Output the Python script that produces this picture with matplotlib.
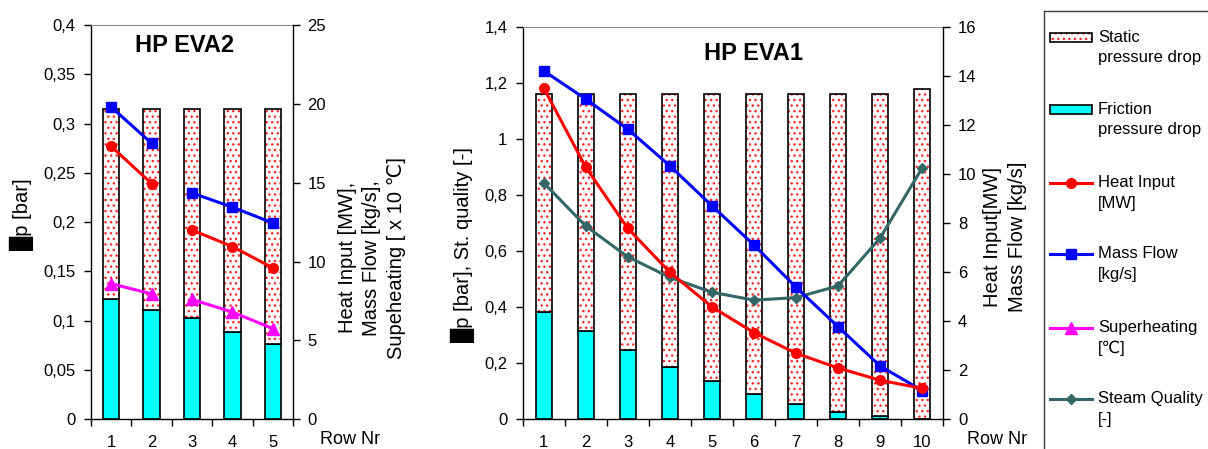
import matplotlib
matplotlib.use('Agg')
import matplotlib.pyplot as plt
from matplotlib.patches import Rectangle
from matplotlib.lines import Line2D
from matplotlib.ticker import FuncFormatter, FixedLocator
import numpy as np

plt.rcParams['font.family'] = ['Liberation Sans', 'DejaVu Sans']
plt.rcParams['font.size'] = 12
plt.rcParams['hatch.linewidth'] = 1.0

# ---------------- data ----------------
# HP EVA2
eva2_rows = [1, 2, 3, 4, 5]
eva2_friction = [0.122, 0.111, 0.103, 0.089, 0.076]
eva2_static = [0.193, 0.204, 0.212, 0.226, 0.239]
eva2_heat = [17.3, 14.95, 12.0, 10.95, 9.6]
eva2_mass = [19.8, 17.5, 14.35, 13.45, 12.45]
eva2_superheat = [8.6, 7.95, 7.6, 6.8, 5.75]
eva2_groups = [[0, 1], [2, 3, 4]]   # lines are broken between row 2 and 3

# HP EVA1
eva1_rows = [1, 2, 3, 4, 5, 6, 7, 8, 9, 10]
eva1_friction = [0.384, 0.316, 0.248, 0.185, 0.137, 0.089, 0.055, 0.027, 0.012, 0.0]
eva1_static = [0.776, 0.844, 0.912, 0.975, 1.023, 1.071, 1.105, 1.133, 1.148, 1.177]
eva1_heat = [13.5, 10.27, 7.78, 5.99, 4.58, 3.53, 2.69, 2.09, 1.59, 1.26]
eva1_mass = [14.2, 13.05, 11.82, 10.33, 8.70, 7.10, 5.38, 3.77, 2.17, 1.17]
eva1_quality = [0.843, 0.689, 0.579, 0.506, 0.453, 0.425, 0.434, 0.476, 0.647, 0.897]

legend_labels = ["Static\npressure drop", "Friction\npressure drop", "Heat Input\n[MW]",
                 "Mass Flow\n[kg/s]", "Superheating\n[\u2103]", "Steam Quality\n[-]"]

# ---------------- styles ----------------
C_STATIC = '#ff2a2a'
C_FRIC = '#00ffff'
C_HEAT = '#ff0000'
C_MASS = '#0000ff'
C_SUP = '#ff00ff'
C_QUAL = '#336666'
LW = 2.2
LABEL_FS = 14.5

W, H = 1208, 449
fig = plt.figure(figsize=(W / 100, H / 100), dpi=100)


def fig_rect(x0, y0, x1, y1):
    return [x0 / W, 1 - y1 / H, (x1 - x0) / W, (y1 - y0) / H]


def comma(v, pos=None):
    s = '{:g}'.format(round(v, 4))
    return s.replace('.', ',')


def style_axes(ax, ax2, n, ylim, y2lim, yticks, y2ticks):
    ax.set_xlim(0.5, n + 0.5)
    ax.set_ylim(*ylim)
    ax2.set_ylim(*y2lim)
    ax.xaxis.set_major_locator(FixedLocator(np.arange(0.5, n + 1, 1)))
    ax.xaxis.set_major_formatter(FuncFormatter(lambda v, p: ''))
    ax.xaxis.set_minor_locator(FixedLocator(np.arange(1, n + 1)))
    ax.xaxis.set_minor_formatter(FuncFormatter(lambda v, p: '%d' % round(v)))
    ax.tick_params(axis='x', which='major', length=5, width=1, direction='out')
    ax.tick_params(axis='x', which='minor', length=0, pad=11.5, labelsize=12)
    ax.set_yticks(yticks)
    ax.yaxis.set_major_formatter(FuncFormatter(comma))
    ax.tick_params(axis='y', length=5, width=1, pad=6, labelsize=12)
    ax2.set_yticks(y2ticks)
    ax2.yaxis.set_major_formatter(FuncFormatter(comma))
    ax2.tick_params(axis='y', length=5, width=1, pad=5.5, labelsize=12)
    for a in (ax, ax2):
        a.spines['top'].set_color('#8c8c8c')
        a.spines['top'].set_linewidth(0.8)
    ax.spines['right'].set_visible(False)
    ax2.spines['left'].set_visible(False)
    ax2.spines['bottom'].set_visible(False)
    ax2.spines['top'].set_visible(False)
    for sp in ('left', 'bottom'):
        ax.spines[sp].set_color('black')
        ax.spines[sp].set_linewidth(1.0)
    ax2.spines['right'].set_color('black')
    ax2.spines['right'].set_linewidth(1.0)


def draw_bars(ax, rows, fric, stat, width):
    ax.bar(rows, fric, width, color=C_FRIC, edgecolor='black', linewidth=1.2, zorder=2)
    ax.bar(rows, stat, width, bottom=fric, color='white', edgecolor=C_STATIC,
           hatch='...', linewidth=0, zorder=2)
    ax.bar(rows, stat, width, bottom=fric, fill=False, edgecolor='black',
           linewidth=1.2, zorder=3)


# ---------------- HP EVA2 ----------------
axA = fig.add_axes(fig_rect(91, 25, 293, 419.3))
axA2 = axA.twinx()
draw_bars(axA, eva2_rows, eva2_friction, eva2_static, 0.41)
for g in eva2_groups:
    xs = [eva2_rows[i] for i in g]
    axA2.plot(xs, [eva2_mass[i] for i in g], color=C_MASS, lw=LW, marker='s', ms=7, zorder=4)
    axA2.plot(xs, [eva2_heat[i] for i in g], color=C_HEAT, lw=LW, marker='o', ms=7, zorder=4)
    axA2.plot(xs, [eva2_superheat[i] for i in g], color=C_SUP, lw=LW, marker='^', ms=8, zorder=4)
style_axes(axA, axA2, 5, (0, 0.4), (0, 25), np.arange(0, 0.401, 0.05), np.arange(0, 26, 5))
axA.text(0.465, 0.949, 'HP EVA2', transform=axA.transAxes, ha='center', va='center',
         fontsize=17, fontweight='bold')
axA.text(-0.342, 0.52, '\u2588p [bar]', transform=axA.transAxes, rotation=90,
         ha='center', va='center', fontsize=LABEL_FS)
axA.text(1.391, 0.41, 'Heat Input [MW],\nMass Flow [kg/s],\nSupeheating [ x 10 \u2103]',
         transform=axA.transAxes, rotation=90, ha='center', va='center',
         multialignment='center', fontsize=LABEL_FS, linespacing=1.38)

# ---------------- HP EVA1 ----------------
axB = fig.add_axes(fig_rect(522.7, 26.7, 943.3, 419.3))
axB2 = axB.twinx()
draw_bars(axB, eva1_rows, eva1_friction, eva1_static, 0.37)
axB.plot(eva1_rows, eva1_quality, color=C_QUAL, lw=LW, marker='D', ms=5.5, zorder=5)
axB2.plot(eva1_rows, eva1_mass, color=C_MASS, lw=LW, marker='s', ms=7, zorder=4)
axB2.plot(eva1_rows, eva1_heat, color=C_HEAT, lw=LW, marker='o', ms=7, zorder=4)
style_axes(axB, axB2, 10, (0, 1.4), (0, 16), np.arange(0, 1.41, 0.2), np.arange(0, 17, 2))
axB.text(0.548, 0.933, 'HP EVA1', transform=axB.transAxes, ha='center', va='center',
         fontsize=17, fontweight='bold')
axB.text(-0.142, 0.446, '\u2588p [bar], St. quality [-]', transform=axB.transAxes,
         rotation=90, ha='center', va='center', fontsize=LABEL_FS)
axB.text(1.147, 0.464, 'Heat Input[MW]\nMass Flow [kg/s]', transform=axB.transAxes,
         rotation=90, ha='center', va='center', multialignment='center', fontsize=LABEL_FS,
         linespacing=1.38)

# Row Nr labels
fig.text(320 / W, 1 - 431 / H, 'Row Nr', ha='left', va='top', fontsize=13)
fig.text(967 / W, 1 - 431 / H, 'Row Nr', ha='left', va='top', fontsize=13)

# ---------------- legend (drawn as a box partly outside the figure) ----------------
lx0, ly0, lx1, ly1 = 1044, 11, 1300, 520
lax = fig.add_axes(fig_rect(lx0, ly0, lx1, ly1))
lax.set_xlim(lx0, lx1)
lax.set_ylim(ly1, ly0)
lax.set_xticks([])
lax.set_yticks([])
for sp in ('left', 'top'):
    lax.spines[sp].set_color('#404040')
    lax.spines[sp].set_linewidth(1.0)
for sp in ('right', 'bottom'):
    lax.spines[sp].set_visible(False)

entry_y = [37, 109, 183, 254, 328, 399]
hx0, hx1, tx = 1050, 1092, 1098
# patches
lax.add_patch(Rectangle((hx0, entry_y[0] - 4.5), hx1 - hx0, 9, facecolor='white',
                        edgecolor=C_STATIC, hatch='...', linewidth=0))
lax.add_patch(Rectangle((hx0, entry_y[0] - 4.5), hx1 - hx0, 9, fill=False,
                        edgecolor='black', linewidth=1.2))
lax.add_patch(Rectangle((hx0, entry_y[1] - 4.5), hx1 - hx0, 9, facecolor=C_FRIC,
                        edgecolor='black', linewidth=1.2))
line_styles = [(C_HEAT, 'o', 7), (C_MASS, 's', 7), (C_SUP, '^', 8), (C_QUAL, 'D', 5.5)]
for j, (c, m, ms) in enumerate(line_styles):
    y = entry_y[2 + j]
    lax.add_line(Line2D([hx0, hx1], [y, y], color=c, lw=LW))
    lax.add_line(Line2D([(hx0 + hx1) / 2], [y], color=c, marker=m, ms=ms))
for i, lab in enumerate(legend_labels):
    lax.text(tx, entry_y[i] - 7.5, lab, ha='left', va='top', fontsize=12, linespacing=1.42)

fig.savefig('out.png', dpi=100)
